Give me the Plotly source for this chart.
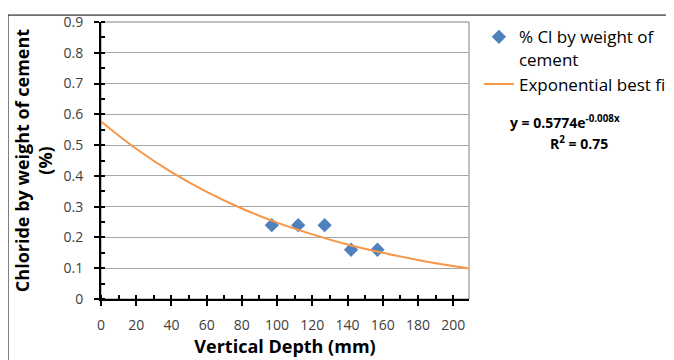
import plotly.graph_objects as go

# Measured data
depth_mm = [97, 112, 127, 142, 157]
chloride_pct = [0.24, 0.24, 0.24, 0.16, 0.16]

# Exponential best-fit curve
fit_x = [0, 20, 40, 60, 80, 100, 120, 140, 160, 180, 200, 209]
fit_y = [0.577, 0.488, 0.412, 0.348, 0.294, 0.248, 0.210, 0.177, 0.150, 0.127, 0.107, 0.099]

x_ticks = [0, 20, 40, 60, 80, 100, 120, 140, 160, 180, 200]
y_ticks = [0, 0.1, 0.2, 0.3, 0.4, 0.5, 0.6, 0.7, 0.8, 0.9]

FONT = "Open Sans"

fig = go.Figure()
fig.add_trace(go.Scatter(
    x=depth_mm, y=chloride_pct, mode="markers",
    name="% Cl by weight of<br>cement",
    marker=dict(symbol="diamond", size=11, color="#4F81BD"),
))
fig.add_trace(go.Scatter(
    x=fit_x, y=fit_y, mode="lines", line_shape="spline",
    name="Exponential best fit",
    line=dict(color="#F79646", width=2),
))

fig.update_layout(
    width=674, height=360,
    margin=dict(l=93, r=213, t=14, b=69, autoexpand=False),
    paper_bgcolor="white", plot_bgcolor="white",
    font=dict(family=FONT, size=14, color="#000000"),
    showlegend=True,
    legend=dict(
        x=1.027, y=1.01, xanchor="left", yanchor="top",
        font=dict(family=FONT, size=17, color="#000000"),
        valign="top", tracegroupgap=2,
        bgcolor="rgba(0,0,0,0)",
    ),
    xaxis=dict(
        range=[0, 209], tickvals=x_ticks,
        showgrid=False, zeroline=False,
        showline=True, linecolor="#000000", linewidth=2,
        ticks="outside", ticklen=5, tickwidth=2, tickcolor="#000000",
        minor=dict(dtick=10, ticks="inside", ticklen=4, tickwidth=2, tickcolor="#000000", showgrid=False),
        tickfont=dict(family=FONT, size=14, color="#404040"),
        ticklabelstandoff=7,
        title=dict(text="<b>Vertical Depth (mm)</b>", font=dict(family=FONT, size=18, color="#000000"), standoff=0),
    ),
    yaxis=dict(
        range=[0, 0.9], tickvals=y_ticks,
        showgrid=True, gridcolor="#A6A6A6", gridwidth=1, zeroline=False,
        showline=True, linecolor="#000000", linewidth=2,
        ticks="outside", ticklen=5, tickwidth=2, tickcolor="#000000",
        minor=dict(dtick=0.05, ticks="inside", ticklen=4, tickwidth=2, tickcolor="#000000", showgrid=False),
        tickfont=dict(family=FONT, size=14, color="#404040"),
        ticklabelstandoff=8,
        title=dict(text="<b>Chloride by weight of cement<br>(%)</b>", font=dict(family=FONT, size=18, color="#000000"), standoff=6),
    ),
    shapes=[
        # outer chart frame
        dict(type="rect", xref="paper", yref="paper", x0=-0.2527, x1=1.7, y0=-0.5, y1=1.025,
             line=dict(color="#000000", width=1), layer="below"),
        # plot area border
        dict(type="rect", xref="paper", yref="paper", x0=0, x1=1, y0=0, y1=1,
             line=dict(color="#808080", width=1), layer="below"),
    ],
    annotations=[
        dict(text="<b>y = 0.5774e<sup>-0.008x</sup></b>", xref="paper", yref="paper",
             x=(508 - 101) / 368, y=(299 - 122) / 277, xanchor="left", yanchor="middle",
             showarrow=False, font=dict(family=FONT, size=14, color="#000000")),
        dict(text="<b>R<sup>2</sup> = 0.75</b>", xref="paper", yref="paper",
             x=(548 - 101) / 368, y=(299 - 143) / 277, xanchor="left", yanchor="middle",
             showarrow=False, font=dict(family=FONT, size=14, color="#000000")),
    ],
)

fig.write_html("out.html")
